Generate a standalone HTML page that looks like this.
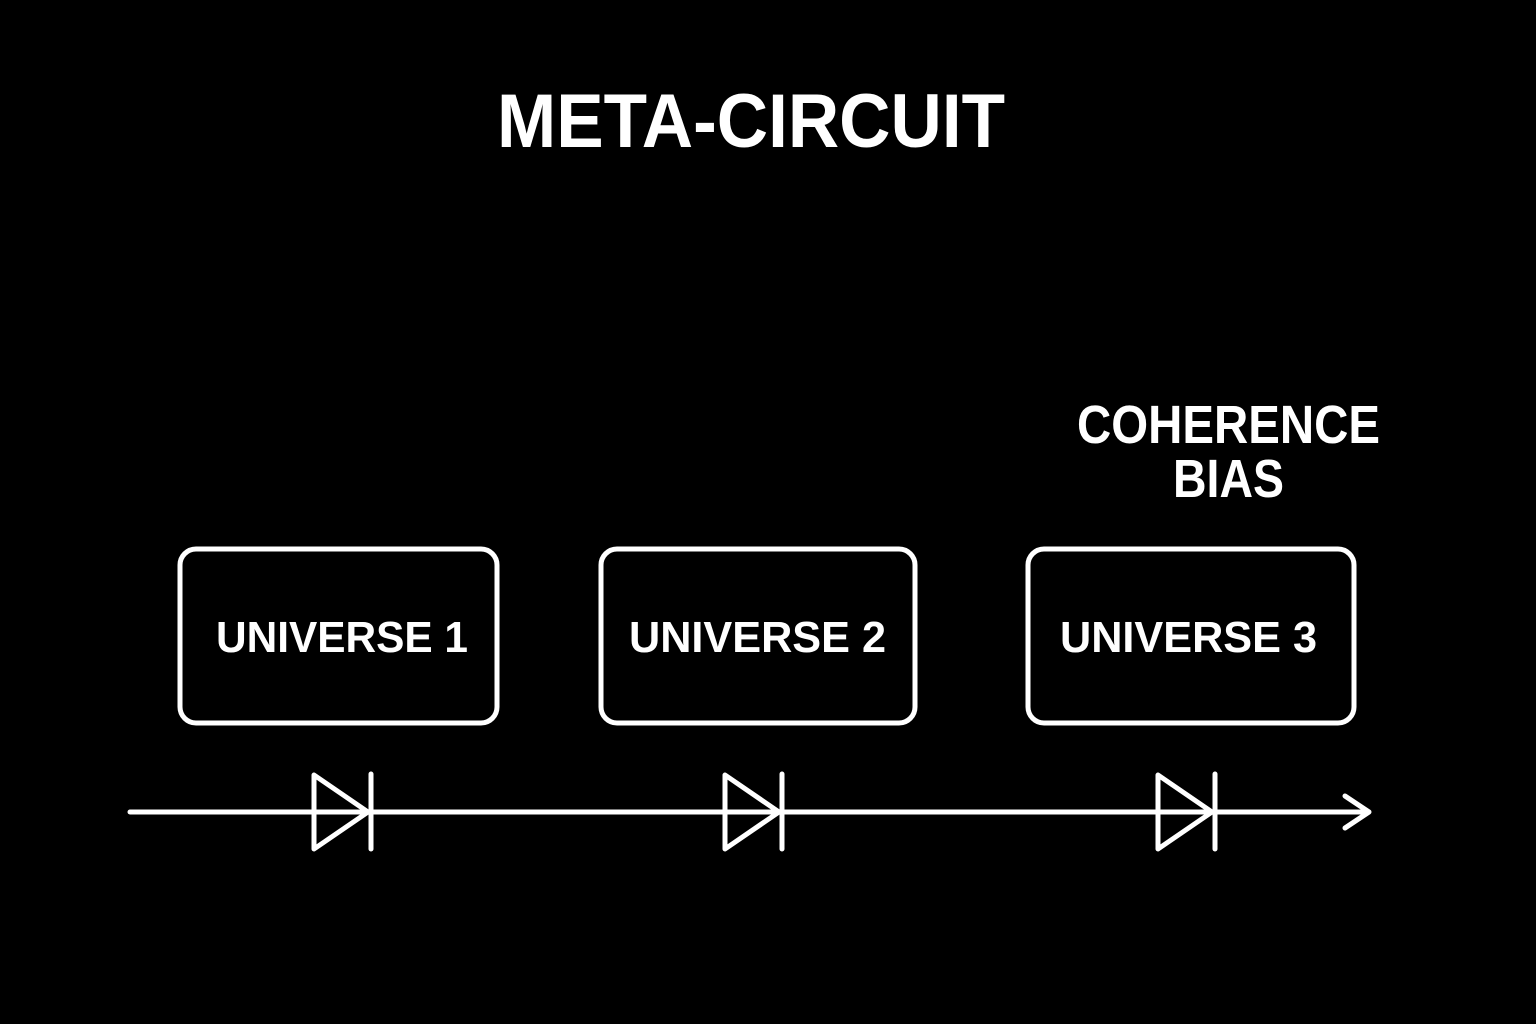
<!DOCTYPE html>
<html><head><style>html,body{margin:0;padding:0;background:#000;}svg{display:block}</style></head>
<body>
<svg width="1536" height="1024" viewBox="0 0 1536 1024" xmlns="http://www.w3.org/2000/svg">
<rect width="1536" height="1024" fill="#000"/>
<g font-family="Liberation Sans, sans-serif" font-weight="bold" fill="#fff">
<text x="497" y="147" font-size="76" textLength="508" lengthAdjust="spacingAndGlyphs">META-CIRCUIT</text>
<text x="1077" y="443" font-size="54" textLength="303" lengthAdjust="spacingAndGlyphs">COHERENCE</text>
<text x="1173" y="497" font-size="54" textLength="111" lengthAdjust="spacingAndGlyphs">BIAS</text>
<text x="216" y="652" font-size="44" textLength="252" lengthAdjust="spacingAndGlyphs">UNIVERSE 1</text>
<text x="629" y="652" font-size="44" textLength="257" lengthAdjust="spacingAndGlyphs">UNIVERSE 2</text>
<text x="1060" y="652" font-size="44" textLength="257" lengthAdjust="spacingAndGlyphs">UNIVERSE 3</text>
</g>
<g fill="none" stroke="#fff" stroke-width="5" stroke-linecap="round" stroke-linejoin="round">
<rect x="180" y="549" width="317" height="174" rx="16"/>
<rect x="601" y="549" width="314" height="174" rx="16"/>
<rect x="1028" y="549" width="326" height="174" rx="16"/>
<line x1="130" y1="812" x2="1368" y2="812"/>
<polyline points="1345,796 1369,812 1345,828"/>
<polygon points="314,775 314,849 368,812"/>
<line x1="371" y1="774" x2="371" y2="849"/>
<polygon points="725,775 725,849 779,812"/>
<line x1="782" y1="774" x2="782" y2="849"/>
<polygon points="1158,775 1158,849 1212,812"/>
<line x1="1215" y1="774" x2="1215" y2="849"/>
</g>
</svg>
</body></html>
